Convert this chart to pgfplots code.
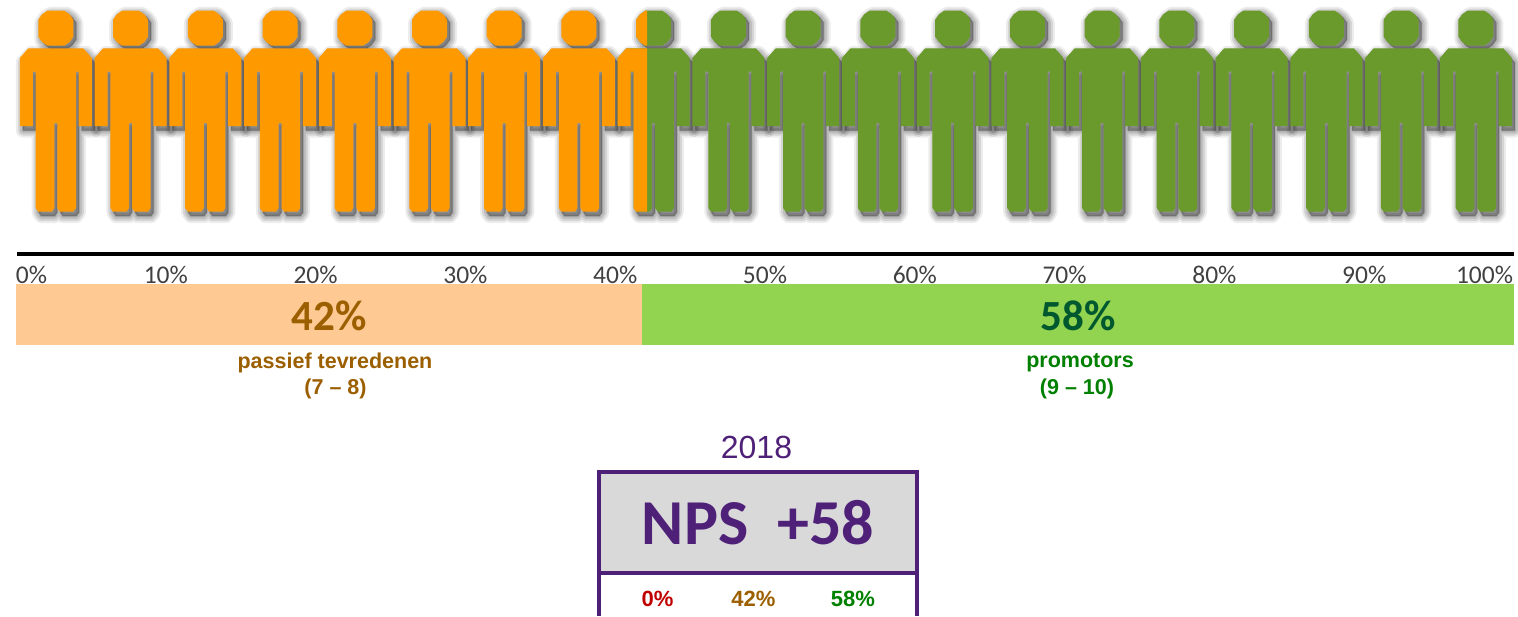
\documentclass[border=0pt]{standalone}
\usepackage{fontspec}
\usepackage{pgfplots}
\usepackage{pgfplotstable}
\pgfplotsset{compat=1.18}
\setmainfont{Carlito}
\newfontfamily\lib{Liberation Sans}
\definecolor{orangep}{HTML}{FF9900}
\definecolor{greenp}{HTML}{6A9A2C}
\definecolor{peach}{HTML}{FFC994}
\definecolor{lime}{HTML}{92D350}
\definecolor{brn}{HTML}{9C5F00}
\definecolor{dgreen}{HTML}{00582F}
\definecolor{grn}{HTML}{008000}
\definecolor{purp}{HTML}{4F2078}
\definecolor{redd}{HTML}{C00000}
\definecolor{ticktxt}{HTML}{404040}
\newcommand{\fs}[1]{\fontsize{#1}{#1}\selectfont}
% figure outline, relative to its centre line (x) and in picture rows (y)
\pgfplotstableread{
x y
-27.5 48.3
27.5 48.3
36 58
36 126
22.8 126
22.8 71.7
20.2 71.7
20.2 208
17.5 211.7
4 211.7
1.5 208
1.5 123
-1.5 123
-1.5 208
-4 211.7
-17.5 211.7
-20.2 208
-20.2 71.7
-23 71.7
-23 126
-36 126
-36 58
-27.5 48.3
}\bodyt
\pgfplotstableread{
x y
-8.5 10.7
8.5 10.7
13.8 14.4
17.5 19.7
17.5 36.7
13.8 42
8.5 45.7
-8.5 45.7
-13.8 42
-17.5 36.7
-17.5 19.7
-13.8 14.4
-8.5 10.7
}\headt
% the part of figure 9 that falls below the 42% cut
\pgfplotstableread{
x y
-27.5 48.3
-6.7 48.3
-6.7 211.7
-17.5 211.7
-20.2 208
-20.2 71.7
-23 71.7
-23 126
-36 126
-36 58
-27.5 48.3
}\bodycut
\pgfplotstableread{
x y
-6.7 10.7
-8.5 10.7
-13.8 14.4
-17.5 19.7
-17.5 36.7
-13.8 42
-8.5 45.7
-6.7 45.7
-6.7 10.7
}\headcut
\begin{document}
\begin{tikzpicture}
\begin{axis}[at={(16pt,271pt)},anchor=south west,scale only axis,width=1498pt,height=61pt,
  xmin=0,xmax=100,ymin=-0.5,ymax=0.5,xbar stacked,bar width=61pt,
  axis line style={draw=none},ytick=\empty,
  xtick={0,10,...,100},xticklabel pos=upper,xtick style={draw=none},major tick length=0pt,
  xticklabels={\hspace*{31pt}0\%,10\%,20\%,30\%,40\%,50\%,60\%,70\%,80\%,90\%,100\%\hspace*{59pt}},
  xticklabel style={overlay,font=\fs{25.5},text=ticktxt,yshift=-0.5pt,inner sep=1pt}]
\addplot[draw=none,fill=peach] coordinates {(41.8,0)};
\addplot[draw=none,fill=lime] coordinates {(58.2,0)};
\end{axis}
\begin{axis}[at={(0pt,0pt)},anchor=south west,scale only axis,width=1518pt,height=616pt,
  xmin=0,xmax=1518,ymin=0,ymax=616,y dir=reverse,hide axis]
% keeps the page at the full canvas
\addplot[draw=none,fill=none] coordinates {(0,0)(1518,0)(1518,616)(0,616)} --cycle;
% shadows
\pgfplotsinvokeforeach{0,...,19}{
  \addplot[draw=black,fill=black,opacity=0.07,line width=14pt,line join=round] table[x expr={\thisrow{x}+55.8+#1*74.74+3},y expr={\thisrow{y}+4.5}] {\bodyt} --cycle;
  \addplot[draw=black,fill=black,opacity=0.10,line width=10pt,line join=round] table[x expr={\thisrow{x}+55.8+#1*74.74+3},y expr={\thisrow{y}+4.5}] {\bodyt} --cycle;
  \addplot[draw=black,fill=black,opacity=0.11,line width=6pt,line join=round] table[x expr={\thisrow{x}+55.8+#1*74.74+3},y expr={\thisrow{y}+4.5}] {\bodyt} --cycle;
  \addplot[draw=black,fill=black,opacity=0.11,line width=2pt,line join=round] table[x expr={\thisrow{x}+55.8+#1*74.74+3},y expr={\thisrow{y}+4.5}] {\bodyt} --cycle;
  \addplot[draw=black,fill=black,opacity=0.07,line width=14pt,line join=round] table[x expr={\thisrow{x}+55.8+#1*74.74+3},y expr={\thisrow{y}+3}] {\headt} --cycle;
  \addplot[draw=black,fill=black,opacity=0.10,line width=10pt,line join=round] table[x expr={\thisrow{x}+55.8+#1*74.74+3},y expr={\thisrow{y}+3}] {\headt} --cycle;
  \addplot[draw=black,fill=black,opacity=0.11,line width=6pt,line join=round] table[x expr={\thisrow{x}+55.8+#1*74.74+3},y expr={\thisrow{y}+3}] {\headt} --cycle;
  \addplot[draw=black,fill=black,opacity=0.11,line width=2pt,line join=round] table[x expr={\thisrow{x}+55.8+#1*74.74+3},y expr={\thisrow{y}+3}] {\headt} --cycle;
}
% figures
\pgfplotsinvokeforeach{0,...,7}{
  \addplot[draw=none,fill=orangep] table[x expr={\thisrow{x}+55.8+#1*74.74}] {\bodyt} --cycle;
  \addplot[draw=none,fill=orangep] table[x expr={\thisrow{x}+55.8+#1*74.74}] {\headt} --cycle;
}
\pgfplotsinvokeforeach{8,...,19}{
  \addplot[draw=none,fill=greenp] table[x expr={\thisrow{x}+55.8+#1*74.74}] {\bodyt} --cycle;
  \addplot[draw=none,fill=greenp] table[x expr={\thisrow{x}+55.8+#1*74.74}] {\headt} --cycle;
}
\addplot[draw=none,fill=orangep] table[x expr={\thisrow{x}+55.8+8*74.74}] {\bodycut} --cycle;
\addplot[draw=none,fill=orangep] table[x expr={\thisrow{x}+55.8+8*74.74}] {\headcut} --cycle;
% rule
\addplot[black,line width=3.6pt] coordinates {(17,254.2)(1514,254.2)};
% NPS box
\addplot[draw=none,fill=black!15] coordinates {(599,472)(917,472)(917,572)(599,572)} --cycle;
\addplot[purp,line width=4pt] coordinates {(599,616)(599,472)(917,472)(917,616)};
\addplot[purp,line width=4pt] coordinates {(599,572.5)(917,572.5)};
\node[brn,font=\fs{43}\bfseries] at (axis cs:329,316) {42\%};
\node[dgreen,font=\fs{43}\bfseries] at (axis cs:1078,316) {58\%};
\node[purp,font=\lib\fs{32}] at (axis cs:756.5,447.5) {2018};
\node[purp,font=\fs{64}\bfseries] at (axis cs:758,523) {NPS\hspace{0.45em}+58};
\node[redd,font=\lib\fs{22}\bfseries] at (axis cs:657.5,599) {0\%};
\node[brn,font=\lib\fs{22}\bfseries] at (axis cs:753.5,599) {42\%};
\node[grn,font=\lib\fs{22}\bfseries] at (axis cs:853,599) {58\%};
\node[brn,font=\lib\fs{21.5}\bfseries] at (axis cs:335,362.5) {passief tevredenen};
\node[brn,font=\lib\fs{21.5}\bfseries] at (axis cs:335.5,388.5) {(7 – 8)};
\node[grn,font=\lib\fs{21.5}\bfseries] at (axis cs:1080,362.5) {promotors};
\node[grn,font=\lib\fs{21.5}\bfseries] at (axis cs:1077,388.5) {(9 – 10)};
\end{axis}
\end{tikzpicture}
\end{document}
